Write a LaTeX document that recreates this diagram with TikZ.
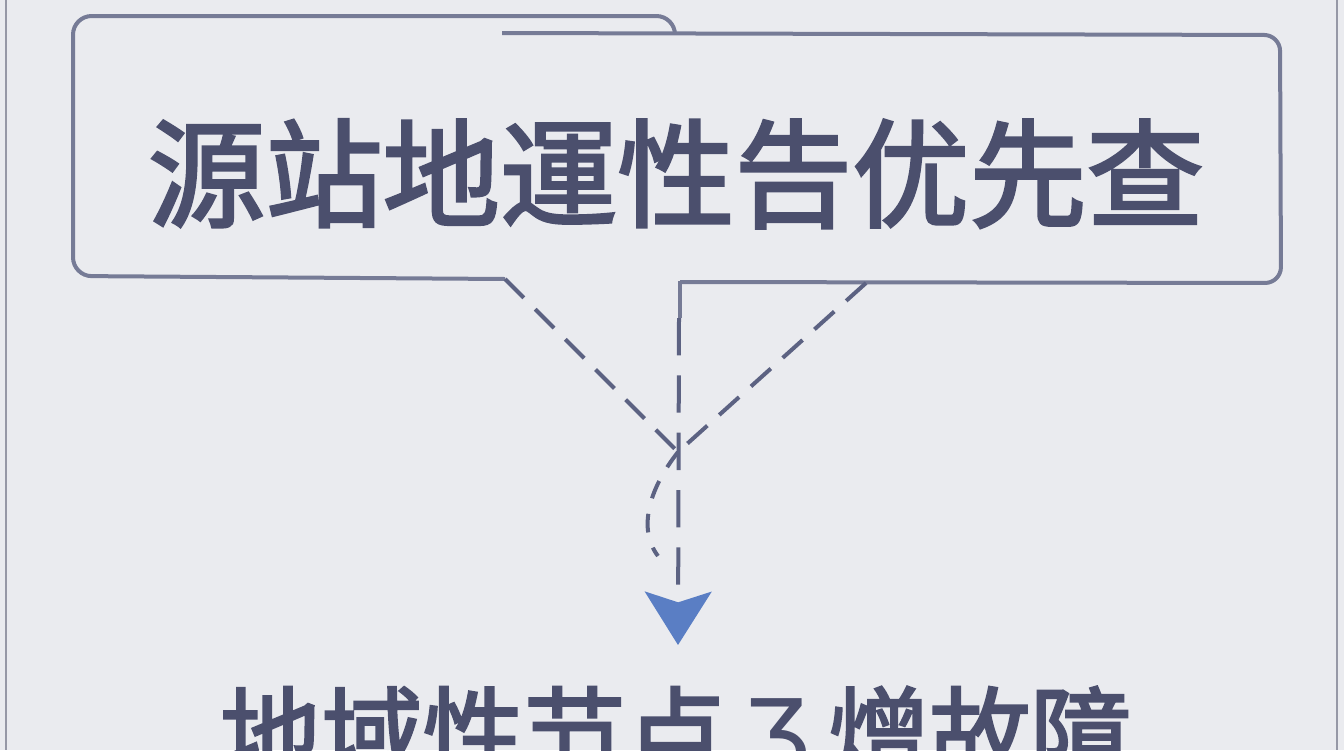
\documentclass[tikz,border=0pt]{standalone}
\usepackage{fontspec}
\usepackage{tikz}
\usetikzlibrary{arrows.meta}
\newfontfamily\cjk{Noto Sans CJK SC}[FakeBold=2.4]
\newfontfamily\dvs{DejaVu Sans}
\definecolor{paper}{RGB}{234,235,239}
\definecolor{edgegray}{RGB}{150,152,166}
\definecolor{boxline}{RGB}{118,123,150}
\definecolor{dashline}{RGB}{92,98,130}
\definecolor{inkslate}{RGB}{75,79,109}
\definecolor{arrowblue}{RGB}{90,126,196}

\begin{document}
\begin{tikzpicture}[x=0.75pt,y=0.75pt,yscale=-1,xscale=1]
%set diagram left start at 0, and has height of 750
\path[use as bounding box,clip] (0,0) rectangle (1344,750);
\fill[paper] (0,0) rectangle (1344,750);

%Straight Lines [page edges]
\draw[color=edgegray, line width=1] (6,0) -- (6,750);
\draw[color=edgegray, line width=1] (1337,0) -- (1337,750);

%Shape: Callout [left half]
\draw[color=boxline, line width=3, rounded corners=14] (505,279) -- (73,276) -- (73,16) -- (675,16) [sharp corners] -- (675,33);
%Shape: Callout [right half]
\draw[color=boxline, line width=3, rounded corners=12] (502,33) -- (1280,35) -- (1281,283) -- (680,282);
\draw[color=boxline, line width=3] (680,281) -- (680,318);

%Coordinates
\coordinate (notchL) at (505,279);
\coordinate (notchR) at (866,283);
\coordinate (merge) at (678,452);
\coordinate (stem) at (679,318);
\coordinate (tip) at (678,645);
\coordinate (curl) at (658,556);

% Text Node
\draw (676,218) node (src) [anchor=base][inner sep=0.75pt] [color=inkslate, font=\cjk\fontsize{88}{96}\selectfont] {源站地運性告优先查};
% Text Node
\draw (676,772) node (fault) [anchor=base][inner sep=0.75pt] [color=inkslate, font=\cjk\fontsize{76}{84}\selectfont] {地域性节点{\dvs\,Ʒ\,}熷故障};

%Straight Lines [dashed]
\draw[color=dashline, line width=3, dash pattern=on 20 off 12] (notchL) -- (merge);
\draw[color=dashline, line width=3, dash pattern=on 20 off 12] (notchR) -- (merge);
%Curve Lines [dashed]
\draw[color=dashline, line width=3, dash pattern=on 14 off 12] (merge) .. controls (648,490) and (638,530) .. (curl);
%Straight Lines [arrow]
\draw[color=dashline, line width=3, dash pattern=on 28 off 15, -{Stealth[length=40pt,width=50pt,inset=8pt,color=arrowblue,fill=arrowblue]}] (stem) -- (tip);

\end{tikzpicture}
\end{document}
